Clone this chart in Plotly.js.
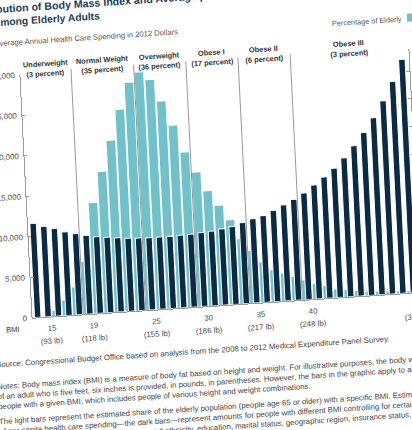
<!DOCTYPE html>
<html><head><meta charset="utf-8">
<script src="https://cdn.plot.ly/plotly-3.0.1.min.js"></script>
<style>
html,body{margin:0;padding:0;width:412px;height:430px;overflow:hidden;background:#fff;}
#wrap{position:absolute;left:-100px;top:-40px;width:620px;height:520px;transform-origin:306px 255px;transform:matrix(1,-0.066,0.05,1,0,0);}
</style></head>
<body><div id="wrap"></div>
<script>
// ---- data ----
const bmi = [14,15,16,17,18,19,20,21,22,23,24,25,26,27,28,29,30,31,32,33,34,35,36,37,38,39,40,41,42,43,44,45,46,47,48,49,50];
const spending = [11600,11150,10800,10300,10000,9700,9450,9300,9150,9000,8950,8900,8900,8900,8950,9000,9100,9200,9400,9600,10000,10400,10700,11250,11850,12450,13150,14050,14950,15950,17150,18550,20100,21850,23850,26150,28800];
const pctElderly = [0,0,0.2,0.55,1.0,1.9,4.0,5.1,6.2,7.3,8.25,8.6,8.3,7.5,6.6,5.6,4.85,4.15,3.6,3.05,2.35,1.9,1.45,1.15,1.0,0.85,0.7,0.55,0.45,0.3,0.25,0.2,0.15,0.12,0.1,0.08,0.06];
const tickBMI = [15,19,25,30,35,40,50];
const tickPounds = ['(93 lb)','(118 lb)','(155 lb)','(186 lb)','(217 lb)','(248 lb)','(310 lb)'];
const categories = ['Underweight','Normal Weight','Overweight','Obese I','Obese II','Obese III'];
const categoryShares = ['(3 percent)','(35 percent)','(36 percent)','(17 percent)','(6 percent)','(3 percent)'];
const categoryStarts = [19,25,30,35,40];
const spendTicks = [0,5000,10000,15000,20000,25000,30000];
const pctTicks = [0,1,2,3,4,5,6,7,8];
const titleLines = ['Distribution of Body Mass Index and Average per Capita Health Care Spending','Among Elderly Adults'];
const axisTitle = 'Average Annual Health Care Spending in 2012 Dollars';
const legendText = 'Percentage of Elderly';
const noteLines = [
 'Source: Congressional Budget Office based on analysis from the 2008 to 2012 Medical Expenditure Panel Survey.',
 'Notes: Body mass index (BMI) is a measure of body fat based on height and weight. For illustrative purposes, the body weight',
 'of an adult who is five feet, six inches is provided, in pounds, in parentheses. However, the bars in the graphic apply to all',
 'people with a given BMI, which includes people of various height and weight combinations.',
 'The light bars represent the estimated share of the elderly population (people age 65 or older) with a specific BMI. Estimates',
 'of per capita health care spending\u2014the dark bars\u2014represent amounts for people with different BMI controlling for certain',
 'characteristics, including age, gender, race and ethnicity, education, marital status, geographic region, insurance status,',
 'smoking status, and seat-belt use.'
];

// ---- geometry (unskewed page frame) ----
const W=620,H=520,OX=100,OY=40;
const PL=28.4,PR=415.8,PT=62.5,PB=306.3;
const XMIN=13.5,XMAX=50.68;
const TICK_SHIFT=0.32, DIV_SHIFT=0.64;
const px = u => (u-PL)/(PR-PL);
const py = u => (PB-u)/(PB-PT);

const SANS='"Liberation Sans",Arial,sans-serif';
const DARK='#0b2a43', LIGHT='#70c1c9', AXIS='#9a9a9a', TXT='#4a4a4a';

const fmt = v => v.toLocaleString('en-US');

const traces = [
 {type:'bar', x:bmi, y:pctElderly, yaxis:'y', marker:{color:LIGHT}, width:0.82, offset:-0.59, hoverinfo:'skip', showlegend:false},
 {type:'bar', x:bmi, y:spending, yaxis:'y2', marker:{color:DARK, line:{color:'#ffffff', width:1}}, width:0.62, offset:-0.31, hoverinfo:'skip', showlegend:false}
];

const ann = [];
function txt(text, ux, uy, opts){
  ann.push(Object.assign({xref:'paper', yref:'paper', x:px(ux), y:py(uy), text:text, showarrow:false,
    xanchor:'left', yanchor:'middle', font:{family:SANS, size:7.4, color:TXT}}, opts||{}));
}
// title
txt('<b>'+titleLines[0]+'</b>', -22, -5, {font:{family:SANS, size:10.6, color:'#1d3d56'}});
txt('<b>'+titleLines[1]+'</b>', 1.5, 9, {font:{family:SANS, size:10.3, color:'#1d3d56'}});
// axis title
txt(axisTitle, 2, 29.5, {font:{family:SANS, size:7.6, color:'#555'}});
// legend text
txt(legendText, 413, 32, {xanchor:'right', font:{family:SANS, size:7.3, color:'#555'}});
// BMI label
txt('BMI', 8.5, 317, {xanchor:'center', font:{family:SANS, size:7.6, color:'#333'}});
// category labels
const bounds = [XMIN].concat(categoryStarts.map(s => s-DIV_SHIFT)).concat([XMAX]);
categories.forEach((c,i) => {
  const cx = (bounds[i]+bounds[i+1])/2;
  ann.push({xref:'x', yref:'paper', x:cx, y:py(52.7), text:'<b>'+c+'</b>', showarrow:false, xanchor:'center', yanchor:'middle', font:{family:SANS, size:7.4, color:'#333'}});
  ann.push({xref:'x', yref:'paper', x:cx, y:py(62.5), text:'<b>'+categoryShares[i]+'</b>', showarrow:false, xanchor:'center', yanchor:'middle', font:{family:SANS, size:7.4, color:'#333'}});
});
// pounds row
tickBMI.forEach((b,i) => {
  ann.push({xref:'x', yref:'paper', x:b+TICK_SHIFT, y:py(331), text:tickPounds[i], showarrow:false, xanchor:'center', yanchor:'middle', font:{family:SANS, size:7.8, color:TXT}});
});
// notes
const noteY = [351,373,383,393,408,418,428,438];
noteLines.forEach((t,i) => txt(t, -13, noteY[i], {font:{family:SANS, size:7.8, color:'#444'}}));

const shapes = categoryStarts.map(s => ({type:'line', xref:'x', yref:'paper', x0:s-DIV_SHIFT, x1:s-DIV_SHIFT, y0:0, y1:py(60), line:{color:AXIS, width:1}, layer:'above'}));
shapes.push({type:'rect', xref:'paper', yref:'paper', x0:px(416), x1:px(424), y0:py(35), y1:py(27), fillcolor:LIGHT, line:{width:0}});

const layout = {
  width:W, height:H,
  margin:{l:PL+OX, r:W-(PR+OX), t:PT+OY, b:H-(PB+OY), pad:0},
  paper_bgcolor:'#fff', plot_bgcolor:'rgba(0,0,0,0)',
  font:{family:SANS, color:TXT, size:7.6},
  barmode:'overlay', showlegend:false,
  xaxis:{range:[XMIN,XMAX], tickvals:tickBMI.map(v=>v+TICK_SHIFT), ticktext:tickBMI.map(String),
    showline:true, linecolor:AXIS, linewidth:1, ticks:'', showgrid:false, zeroline:false,
    tickfont:{family:SANS, size:7.8, color:TXT}, ticklabelstandoff:4, fixedrange:true},
  yaxis:{range:[0,8.8], side:'right', tickvals:pctTicks, ticks:'inside', ticklen:3, tickcolor:AXIS,
    showline:true, linecolor:AXIS, linewidth:1, showgrid:false, zeroline:false,
    showticklabels:false, fixedrange:true},
  yaxis2:{range:[0,30000], overlaying:'y', side:'left', tickvals:spendTicks, ticktext:spendTicks.map(fmt),
    ticks:'inside', ticklen:3, tickcolor:AXIS, showline:true, linecolor:AXIS, linewidth:1,
    showgrid:false, zeroline:false, tickfont:{family:SANS, size:7.9, color:TXT}, ticklabelstandoff:3, fixedrange:true},
  annotations:ann, shapes:shapes
};
Plotly.newPlot('wrap', traces, layout, {staticPlot:true, displayModeBar:false});
</script>
</body></html>
